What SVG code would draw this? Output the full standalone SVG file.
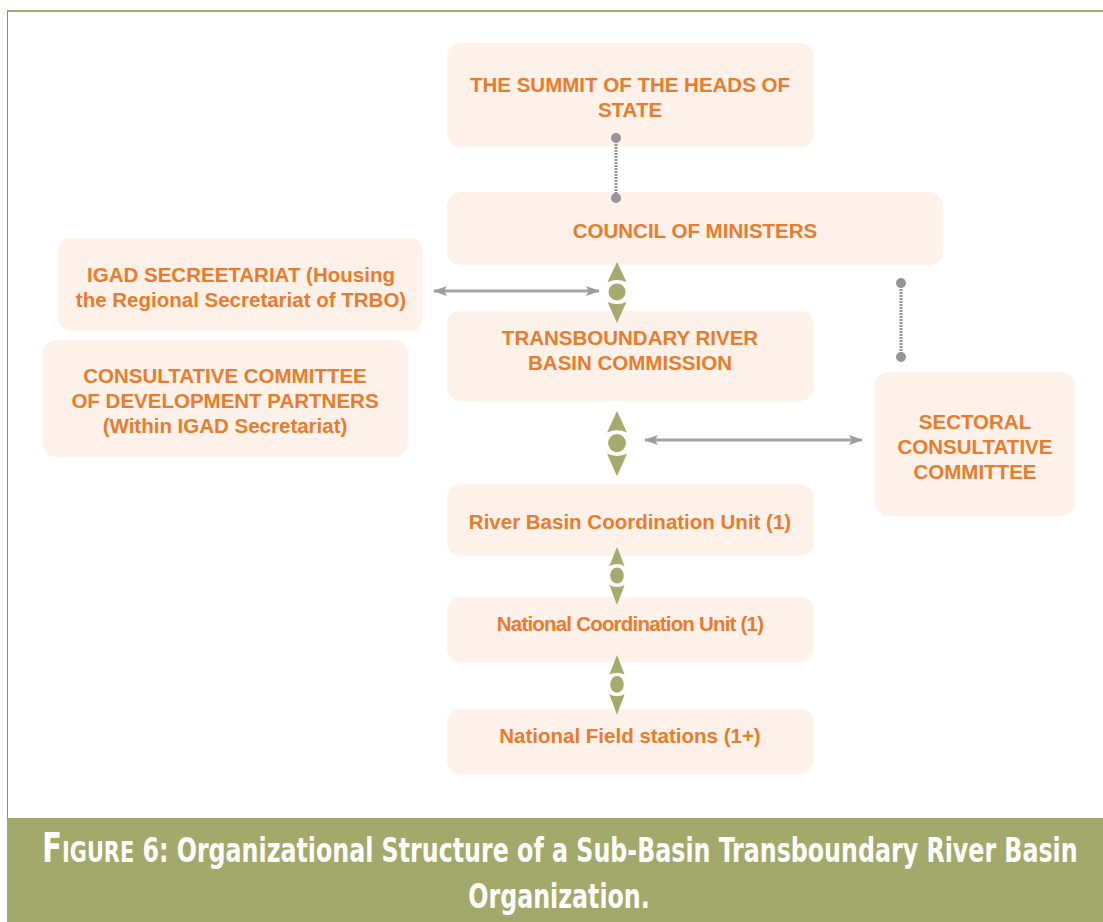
<svg xmlns="http://www.w3.org/2000/svg" width="1103" height="922" viewBox="0 0 1103 922">
<defs>
<style>
.box{fill:#fdf1e9;}
.t{font-family:"Liberation Sans",Arial,sans-serif;font-weight:bold;font-size:20.5px;fill:#e97c2c;text-anchor:middle;}
.dot{fill:#939598;}
.dl{stroke:#939598;stroke-width:3;stroke-dasharray:2 1;}
.g{fill:#a5ab6c;}
.ar{stroke:#a2a4a7;stroke-width:3;fill:none;}
.cap{font-family:"DejaVu Sans Condensed","DejaVu Sans",sans-serif;font-weight:bold;fill:#ffffff;text-anchor:middle;}
</style>
<marker id="ah" viewBox="0 0 14 10" refX="13" refY="5" markerWidth="14" markerHeight="10" orient="auto-start-reverse" markerUnits="userSpaceOnUse">
<path d="M0,0 L14,5 L0,10 L3,5 z" fill="#9a9c9f"/>
</marker>
<g id="gsym">
<path class="g" d="M-9.5,20 L0,0 L9.5,20 Q0,16 -9.5,20 z"/>
<circle class="g" cx="0" cy="30" r="8.5"/>
<path class="g" d="M-9.5,40 Q0,44 9.5,40 L0,61 z"/>
</g>
</defs>
<rect width="1103" height="922" fill="#ffffff"/>
<line x1="7" y1="11" x2="1103" y2="11" stroke="#a3ab6a" stroke-width="2"/>
<line x1="7.5" y1="11" x2="7.5" y2="818" stroke="#8a9a3a" stroke-width="1"/>
<rect x="7" y="818" width="1096" height="104" fill="#a3a96a"/>

<g id="summit"><rect class="box" x="447" y="43" width="367" height="104" rx="14"/>
<text class="t" x="630" y="92">THE SUMMIT OF THE HEADS OF</text><text class="t" x="630" y="117">STATE</text></g>
<g id="council"><rect class="box" x="447" y="192" width="496" height="73" rx="14"/>
<text class="t" x="695" y="238">COUNCIL OF MINISTERS</text></g>
<g id="igad"><rect class="box" x="58" y="238" width="365" height="93" rx="14"/>
<text class="t" x="241" y="282">IGAD SECREETARIAT (Housing</text><text class="t" x="241" y="307">the Regional Secretariat of TRBO)</text></g>
<g id="trbc"><rect class="box" x="447" y="311" width="367" height="90" rx="14"/>
<text class="t" x="630" y="345">TRANSBOUNDARY RIVER</text><text class="t" x="630" y="370">BASIN COMMISSION</text></g>
<g id="cdp"><rect class="box" x="43" y="340" width="365" height="117" rx="14"/>
<text class="t" x="225" y="383">CONSULTATIVE COMMITTEE</text><text class="t" x="225" y="408">OF DEVELOPMENT PARTNERS</text><text class="t" x="225" y="433">(Within IGAD Secretariat)</text></g>
<g id="sectoral"><rect class="box" x="875" y="372" width="200" height="144" rx="14"/>
<text class="t" x="975" y="429">SECTORAL</text><text class="t" x="975" y="454">CONSULTATIVE</text><text class="t" x="975" y="479">COMMITTEE</text></g>
<g id="rbcu"><rect class="box" x="447" y="484" width="367" height="72" rx="14"/>
<text class="t" x="630" y="529">River Basin Coordination Unit (1)</text></g>
<g id="ncu"><rect class="box" x="447" y="597" width="367" height="65" rx="14"/>
<text class="t" x="630" y="631" letter-spacing="-0.8">National Coordination Unit (1)</text></g>
<g id="nfs"><rect class="box" x="447" y="709" width="367" height="65" rx="14"/>
<text class="t" x="630" y="743">National Field stations (1+)</text></g>

<g id="connectors">
<line class="dl" x1="616" y1="138" x2="616" y2="198"/>
<circle class="dot" cx="616" cy="138" r="5"/><circle class="dot" cx="616" cy="198" r="5"/>
<line class="dl" x1="901" y1="283" x2="901" y2="357"/>
<circle class="dot" cx="901" cy="283" r="5"/><circle class="dot" cx="901" cy="357" r="5"/>
<use href="#gsym" transform="translate(617,262)"/>
<use href="#gsym" transform="translate(617,411) scale(1.05,1.07)"/>
<use href="#gsym" transform="translate(617,547) scale(0.8,0.95)"/>
<use href="#gsym" transform="translate(617,655) scale(0.8,0.98)"/>
<line class="ar" x1="434" y1="291" x2="599" y2="291" marker-start="url(#ah)" marker-end="url(#ah)"/>
<line class="ar" x1="645" y1="440" x2="862" y2="440" marker-start="url(#ah)" marker-end="url(#ah)"/>
</g>
<g id="caption">
<text class="cap" transform="translate(560,862) scale(0.8,1)" x="0" y="0" font-size="33"><tspan font-size="40">F</tspan><tspan font-size="29">IGURE</tspan> 6: Organizational Structure of a Sub-Basin Transboundary River Basin</text>
<text class="cap" transform="translate(559,908) scale(0.8,1)" x="0" y="0" font-size="33">Organization.</text>
</g>
</svg>
